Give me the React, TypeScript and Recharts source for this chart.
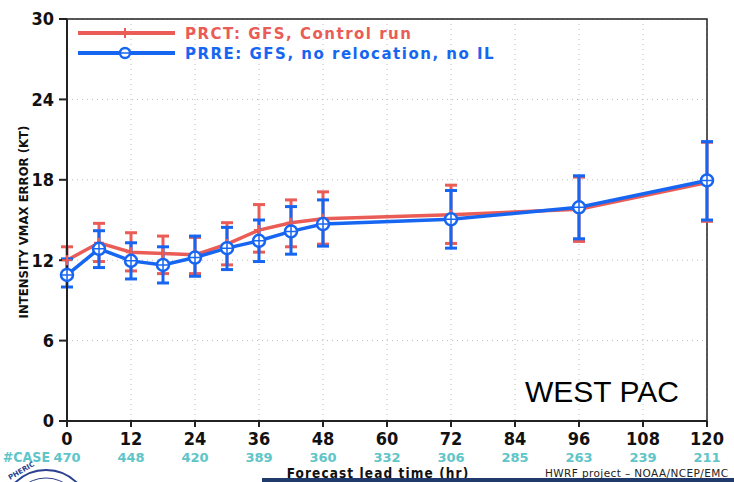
import React from "react";
import {
  ComposedChart,
  Line,
  ErrorBar,
  XAxis,
  YAxis,
  CartesianGrid,
  ReferenceArea,
} from "recharts";

const hours = [0, 6, 12, 18, 24, 30, 36, 42, 48, 72, 96, 120];

const prctMean = [12.0, 13.3, 12.6, 12.5, 12.4, 13.2, 14.25, 14.8, 15.1, 15.4, 15.8, 17.8];
const prctHigh = [13.0, 14.75, 14.05, 13.8, 13.7, 14.8, 16.15, 16.5, 17.1, 17.6, 18.2, 20.8];
const prctLow = [10.9, 11.9, 11.2, 11.0, 11.0, 11.65, 12.6, 13.0, 13.2, 13.25, 13.4, 14.9];

const prreMean = [10.9, 12.85, 11.95, 11.65, 12.2, 12.9, 13.45, 14.15, 14.7, 15.05, 15.95, 17.95];
const prreHigh = [12.1, 14.2, 13.3, 13.0, 13.8, 14.45, 15.0, 16.0, 16.5, 17.2, 18.3, 20.85];
const prreLow = [10.0, 11.45, 10.6, 10.3, 10.8, 11.3, 11.9, 12.45, 13.05, 12.9, 13.6, 15.0];

const xTicks = [0, 12, 24, 36, 48, 60, 72, 84, 96, 108, 120];
const caseCounts = [470, 448, 420, 389, 360, 332, 306, 285, 263, 239, 211];
const yTicks = [0, 6, 12, 18, 24, 30];

const RED = "#ea5c56";
const BLUE = "#1766f2";
const TEAL = "#5ec5c8";

const data = hours.map((h, i) => ({
  hour: h,
  prct: prctMean[i],
  prctErr: [prctMean[i] - prctLow[i], prctHigh[i] - prctMean[i]],
  prre: prreMean[i],
  prreErr: [prreMean[i] - prreLow[i], prreHigh[i] - prreMean[i]],
}));

const PlusDot = (props: any) => {
  const { cx, cy } = props;
  if (cx == null || cy == null) return null;
  return (
    <path
      d={`M${cx - 5},${cy} L${cx + 5},${cy} M${cx},${cy - 5} L${cx},${cy + 5}`}
      stroke={RED}
      strokeWidth={2}
    />
  );
};

const CircleDot = (props: any) => {
  const { cx, cy } = props;
  if (cx == null || cy == null) return null;
  return (
    <g>
      <circle cx={cx} cy={cy} r={6} fill="#fff" stroke={BLUE} strokeWidth={2.5} />
      <path
        d={`M${cx - 6},${cy} L${cx + 6},${cy} M${cx},${cy - 6} L${cx},${cy + 6}`}
        stroke={BLUE}
        strokeWidth={1.5}
      />
    </g>
  );
};

const XTick = (props: any) => {
  const { x, y, payload } = props;
  const idx = xTicks.indexOf(payload.value);
  return (
    <g>
      <text
        x={x}
        y={y + 16}
        textAnchor="middle"
        fontFamily="DejaVu Sans Condensed"
        fontWeight="bold"
        fontSize={18}
        fill="#111"
      >
        {payload.value}
      </text>
      <text
        x={x}
        y={y + 33}
        textAnchor="middle"
        fontFamily="DejaVu Sans"
        fontWeight="bold"
        fontSize={13}
        fill={TEAL}
      >
        {caseCounts[idx]}
      </text>
      {payload.value === 0 && (
        <text
          x={x - 17}
          y={y + 33}
          textAnchor="end"
          fontFamily="DejaVu Sans Condensed"
          fontWeight="bold"
          fontSize={14}
          fill={TEAL}
        >
          #CASE
        </text>
      )}
    </g>
  );
};

export default function App() {
  return (
    <div style={{ position: "absolute", left: 0, top: 0, width: 734, height: 482, background: "#fff" }}>
      <ComposedChart
        width={734}
        height={482}
        data={data}
        margin={{ top: 19, right: 27, bottom: 0, left: 0 }}
      >
        <CartesianGrid stroke="#bbb" strokeDasharray="1 4" />
        <XAxis
          dataKey="hour"
          type="number"
          domain={[0, 120]}
          ticks={xTicks}
          height={61}
          stroke="#222"
          strokeWidth={2}
          tickSize={6}
          tickMargin={2}
          tick={<XTick />}
        />
        <YAxis
          type="number"
          domain={[0, 30]}
          ticks={yTicks}
          width={67}
          stroke="#222"
          strokeWidth={2}
          tickSize={8}
          tickMargin={5}
          tick={{ fontSize: 18, fontFamily: "DejaVu Sans Condensed", fontWeight: "bold", fill: "#111" }}
        />
        <ReferenceArea x1={0} x2={120} y1={0} y2={30} fill="none" stroke="#222" strokeWidth={1.5} />
        <Line
          dataKey="prct"
          stroke={RED}
          strokeWidth={3.5}
          dot={<PlusDot />}
          isAnimationActive={false}
        >
          <ErrorBar dataKey="prctErr" direction="y" width={6} stroke={RED} strokeWidth={3} isAnimationActive={false} />
        </Line>
        <Line
          dataKey="prre"
          stroke={BLUE}
          strokeWidth={3.5}
          dot={<CircleDot />}
          isAnimationActive={false}
        >
          <ErrorBar dataKey="prreErr" direction="y" width={6} stroke={BLUE} strokeWidth={3} isAnimationActive={false} />
        </Line>
      </ComposedChart>
      <svg
        width={734}
        height={482}
        style={{ position: "absolute", left: 0, top: 0, pointerEvents: "none" }}
      >
        <line x1={78} y1={33} x2={175} y2={33} stroke={RED} strokeWidth={4} />
        <path d="M120,33 L130,33 M125,28 L125,38" stroke={RED} strokeWidth={2} />
        <text
          x={185}
          y={39}
          fontFamily="DejaVu Sans"
          fontWeight="bold"
          fontSize={15}
          letterSpacing={1.5}
          fill={RED}
        >
          PRCT: GFS, Control run
        </text>
        <line x1={78} y1={53} x2={175} y2={53} stroke={BLUE} strokeWidth={4} />
        <circle cx={125} cy={53} r={5} fill="#fff" stroke={BLUE} strokeWidth={2.5} />
        <line x1={120} y1={53} x2={130} y2={53} stroke={BLUE} strokeWidth={1.5} />
        <text
          x={185}
          y={59}
          fontFamily="DejaVu Sans"
          fontWeight="bold"
          fontSize={15}
          letterSpacing={1.5}
          fill={BLUE}
        >
          PRRE: GFS, no relocation, no IL
        </text>
        <text
          x={23}
          y={222}
          transform="rotate(-90 23 222)"
          textAnchor="middle"
          dominantBaseline="central"
          fontFamily="DejaVu Sans Condensed"
          fontWeight="bold"
          fontSize={13}
          fill="#111"
        >
          INTENSITY VMAX ERROR (KT)
        </text>
        <text x={525} y={402} fontFamily="Liberation Sans" fontSize={30} fill="#000">
          WEST PAC
        </text>
        <text
          x={378}
          y={477.5}
          textAnchor="middle"
          fontFamily="DejaVu Sans Condensed"
          fontWeight="bold"
          fontSize={13.5}
          letterSpacing={1.1}
          fill="#111"
        >
          Forecast lead time (hr)
        </text>
        <rect x={262} y={478} width={472} height={4} fill="#1f3a6b" />
        <text
          x={545}
          y={477}
          fontFamily="DejaVu Sans"
          fontSize={10.5}
          letterSpacing={0.4}
          fill="#222"
        >
          HWRF project – NOAA/NCEP/EMC
        </text>
        <circle cx={46} cy={514} r={44} fill="#fff" stroke="#2a3f8f" strokeWidth={2} />
        <circle cx={46} cy={514} r={36} fill="none" stroke="#2a3f8f" strokeWidth={1} />
        <text
          x={10}
          y={480}
          transform="rotate(-30 10 480)"
          fontFamily="DejaVu Sans"
          fontWeight="bold"
          fontSize={7}
          fill="#2a3f8f"
        >
          PHERIC
        </text>
      </svg>
    </div>
  );
}
